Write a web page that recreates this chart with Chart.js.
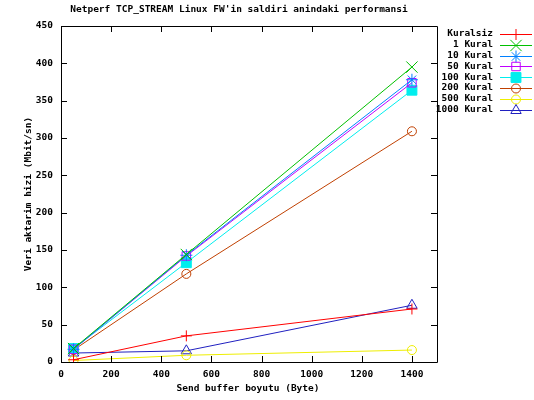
<!DOCTYPE html>
<html>
<head>
<meta charset="utf-8">
<script src="https://cdn.jsdelivr.net/npm/chart.js@4/dist/chart.umd.min.js"></script>
<style>
  html, body { margin: 0; padding: 0; background: #fff; }
  #wrap { width: 534px; height: 400px; }
</style>
</head>
<body>
<div id="wrap"><canvas id="c" width="534" height="400"></canvas></div>
<script>
// Send buffer sizes (Byte)
const bufferSizes = [50, 500, 1400];

// Throughput (Mbit/sn) per rule count
const kuralsiz   = [3, 35, 71];
const kural1     = [18, 144, 395];
const kural10    = [17, 143, 378];
const kural50    = [17, 142, 374];
const kural100   = [18, 133, 364];
const kural200   = [16, 118, 309];
const kural500   = [2, 9, 16];
const kural1000  = [12, 15, 76];

const seriesNames = ['Kuralsiz', '1 Kural', '10 Kural', '50 Kural', '100 Kural', '200 Kural', '500 Kural', '1000 Kural'];
const seriesValues = [kuralsiz, kural1, kural10, kural50, kural100, kural200, kural500, kural1000];

const xTicks = [0, 200, 400, 600, 800, 1000, 1200, 1400];
const yTicks = [0, 50, 100, 150, 200, 250, 300, 350, 400, 450];

const titleText = "Netperf TCP_STREAM Linux FW'in saldiri anindaki performansi";
const xTitle = 'Send buffer boyutu (Byte)';
const yTitle = 'Veri aktarim hizi (Mbit/sn)';

const FAMILY = '"DejaVu Sans Mono", "Liberation Mono", monospace';
const FONT = 'bold 9.5px ' + FAMILY;

const styles = [
  { color: '#ff0000', pointStyle: 'cross',    radius: 5.5, fill: false },
  { color: '#00c000', pointStyle: 'crossRot', radius: 8,   fill: false },
  { color: '#0080ff', pointStyle: 'star',     radius: 6,   fill: false },
  { color: '#c000ff', pointStyle: 'rect',     radius: 6,   fill: false },
  { color: '#00eeee', pointStyle: 'rect',     radius: 7,   fill: true  },
  { color: '#c04000', pointStyle: 'circle',   radius: 4.5, fill: false },
  { color: '#eeee00', pointStyle: 'circle',   radius: 4.5, fill: false },
  { color: '#2020c0', pointStyle: 'triangle', radius: 6,   fill: false }
];

const datasets = seriesNames.map((name, i) => ({
  label: name,
  data: bufferSizes.map((x, j) => ({ x: x, y: seriesValues[i][j] })),
  borderColor: styles[i].color,
  backgroundColor: styles[i].fill ? styles[i].color : 'rgba(0,0,0,0)',
  pointStyle: styles[i].pointStyle,
  pointRadius: styles[i].radius,
  pointHoverRadius: styles[i].radius,
  pointBorderWidth: 1,
  borderWidth: 1,
  tension: 0,
  fill: false
}));

// Box frame, mirrored inward ticks, titles and key
const framePlugin = {
  id: 'frame',
  afterDatasetsDraw(chart) {
    const ctx = chart.ctx;
    const a = chart.chartArea;
    const xs = chart.scales.x, ys = chart.scales.y;
    const tl = 6;
    ctx.save();
    ctx.strokeStyle = '#000';
    ctx.lineWidth = 1;
    ctx.beginPath();
    ctx.rect(Math.round(a.left) + 0.5, Math.round(a.top) + 0.5,
             Math.round(a.right - a.left), Math.round(a.bottom - a.top));
    xTicks.forEach(v => {
      const px = Math.round(xs.getPixelForValue(v)) + 0.5;
      ctx.moveTo(px, a.bottom); ctx.lineTo(px, a.bottom - tl);
      ctx.moveTo(px, a.top); ctx.lineTo(px, a.top + tl);
    });
    yTicks.forEach(v => {
      const py = Math.round(ys.getPixelForValue(v)) + 0.5;
      ctx.moveTo(a.left, py); ctx.lineTo(a.left + tl, py);
      ctx.moveTo(a.right, py); ctx.lineTo(a.right - tl, py);
    });
    ctx.stroke();

    ctx.fillStyle = '#000';
    ctx.font = FONT;
    ctx.textBaseline = 'middle';
    ctx.textAlign = 'center';
    ctx.fillText(titleText, 239, 10);
    ctx.fillText(xTitle, 248, 389);
    ctx.save();
    ctx.translate(29, (a.top + a.bottom) / 2);
    ctx.rotate(-Math.PI / 2);
    ctx.fillText(yTitle, 0, 0);
    ctx.restore();

    // key
    const keyTop = 34, keyStep = 10.8;
    chart.data.datasets.forEach((ds, i) => {
      const y = keyTop + i * keyStep;
      ctx.fillStyle = '#000';
      ctx.textAlign = 'right';
      ctx.fillText(ds.label, 493, y);
      const ly = Math.round(y) + 0.5;
      ctx.strokeStyle = ds.borderColor;
      ctx.lineWidth = 1;
      ctx.beginPath();
      ctx.moveTo(500, ly); ctx.lineTo(532, ly);
      ctx.stroke();
      ctx.fillStyle = ds.backgroundColor;
      Chart.helpers.drawPoint(ctx, {
        pointStyle: ds.pointStyle, radius: ds.pointRadius, borderWidth: 1, rotation: 0
      }, 516, ly);
    });
    ctx.restore();
  }
};

new Chart(document.getElementById('c'), {
  type: 'line',
  data: { datasets: datasets },
  options: {
    responsive: false,
    animation: false,
    events: [],
    layout: { padding: { left: 0, top: 26, right: 97, bottom: 0 } },
    plugins: { legend: { display: false }, title: { display: false }, tooltip: { enabled: false } },
    scales: {
      x: {
        type: 'linear',
        min: 0, max: 1500,
        grid: { display: false, drawTicks: false },
        border: { display: false },
        ticks: {
          stepSize: 200, includeBounds: false, padding: 7,
          color: '#000', maxRotation: 0, autoSkip: false,
          callback: v => String(v),
          font: { family: FAMILY, size: 9.5, weight: 'bold' }
        },
        afterFit(scale) { scale.height = 38; }
      },
      y: {
        type: 'linear',
        min: 0, max: 450,
        grid: { display: false, drawTicks: false },
        border: { display: false },
        ticks: {
          stepSize: 50, padding: 8, color: '#000', autoSkip: false,
          callback: v => String(v),
          font: { family: FAMILY, size: 9.5, weight: 'bold' }
        },
        afterFit(scale) { scale.width = 61; }
      }
    }
  },
  plugins: [framePlugin]
});
</script>
</body>
</html>
